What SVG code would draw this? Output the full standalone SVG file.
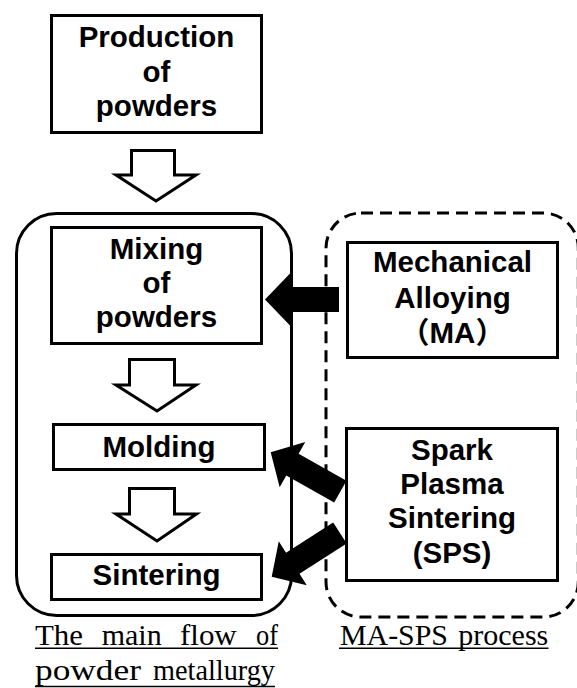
<svg xmlns="http://www.w3.org/2000/svg" width="577" height="688" viewBox="0 0 577 688">
<style>
.box{fill:#fff;stroke:#000;stroke-width:3}
.lbl{font-family:"Liberation Sans","Noto Sans CJK JP",Arial,sans-serif;font-weight:bold;font-size:29.5px;fill:#000;text-anchor:middle}
.cap{font-family:"Liberation Serif","Times New Roman",serif;font-size:30px;fill:#000}
.hollow{fill:#fff;stroke:#000;stroke-width:3;stroke-linejoin:miter}
.solid{fill:#000;stroke:none}
.ul{stroke:#000;stroke-width:1.6}
</style>
<rect width="577" height="688" fill="#fff"/>
<g id="main-flow-container">
<rect x="16.5" y="213.5" width="275" height="402" rx="40" ry="40" fill="none" stroke="#000" stroke-width="3"/>
</g>
<g id="ma-sps-container">
<rect x="326" y="213" width="252.3" height="404" rx="35" ry="35" fill="none" stroke="#000" stroke-width="3" stroke-dasharray="12 7"/>
</g>
<g id="connectors">
<path class="hollow" d="M131.5,150.5 H174.5 V175 H196 L156,201 L116,175 H131.5 Z"/>
<path class="hollow" d="M129.5,359.5 H174.5 V385 H196 L157,411 L116,385 H129.5 Z"/>
<path class="hollow" d="M129.5,488.5 H174.5 V514 H196.5 L157,541 L116,514 H129.5 Z"/>
<polygon class="solid" transform="translate(265,299.5) rotate(180)" points="-74,-12.5 -25,-12.5 -25,-26 0,0 -25,26 -25,12.5 -74,12.5"/>
<polygon class="solid" transform="translate(270.7,452.3) rotate(209.5)" points="-80,-12.5 -25,-12.5 -25,-26 0,0 -25,26 -25,12.5 -80,12.5"/>
<polygon class="solid" transform="translate(271.7,576.7) rotate(147.4)" points="-81,-12.5 -25,-12.5 -25,-26 0,0 -25,26 -25,12.5 -81,12.5"/>
</g>
<g id="production">
<rect class="box" x="51.5" y="15.5" width="210" height="117"/>
<text class="lbl" x="156.5" y="47">Production</text>
<text class="lbl" x="156.5" y="82">of</text>
<text class="lbl" x="156.5" y="116">powders</text>
</g>
<g id="mixing">
<rect class="box" x="51.5" y="227.5" width="210" height="116"/>
<text class="lbl" x="156.5" y="258.5">Mixing</text>
<text class="lbl" x="156.5" y="292.5">of</text>
<text class="lbl" x="156.5" y="326.5">powders</text>
</g>
<g id="molding">
<rect class="box" x="53.5" y="424.5" width="211" height="45"/>
<text class="lbl" x="159" y="456.5">Molding</text>
</g>
<g id="sintering">
<rect class="box" x="51.5" y="554.5" width="210" height="45"/>
<text class="lbl" x="156.5" y="585">Sintering</text>
</g>
<g id="ma">
<rect class="box" x="347.5" y="242.5" width="210" height="115"/>
<text class="lbl" x="452.5" y="271.7">Mechanical</text>
<text class="lbl" x="452.5" y="307.5">Alloying</text>
<text class="lbl" x="452.5" y="343.3">（MA）</text>
</g>
<g id="sps">
<rect class="box" x="346.5" y="428.5" width="211" height="152"/>
<text class="lbl" x="452" y="460">Spark</text>
<text class="lbl" x="452" y="493.5">Plasma</text>
<text class="lbl" x="452" y="528">Sintering</text>
<text class="lbl" x="452" y="562.5">(SPS)</text>
</g>
<g id="caption-main">
<text class="cap" x="35" y="645" textLength="48" lengthAdjust="spacingAndGlyphs">The</text>
<text class="cap" x="101.7" y="645" textLength="60" lengthAdjust="spacingAndGlyphs">main</text>
<text class="cap" x="180" y="645" textLength="56.7" lengthAdjust="spacingAndGlyphs">flow</text>
<text class="cap" x="256" y="645" textLength="22" lengthAdjust="spacingAndGlyphs">of</text>
<line class="ul" x1="35" y1="648.3" x2="278" y2="648.3"/>
<text class="cap" x="35" y="680" textLength="106" lengthAdjust="spacingAndGlyphs">powder</text>
<text class="cap" x="153" y="680" textLength="122" lengthAdjust="spacingAndGlyphs">metallurgy</text>
<line class="ul" x1="35" y1="686.5" x2="275" y2="686.5"/>
</g>
<g id="caption-ma-sps">
<text class="cap" x="340" y="645" textLength="108" lengthAdjust="spacingAndGlyphs">MA-SPS</text>
<text class="cap" x="458.3" y="645" textLength="90" lengthAdjust="spacingAndGlyphs">process</text>
<line class="ul" x1="339" y1="648.3" x2="548.5" y2="648.3"/>
</g>
</svg>
